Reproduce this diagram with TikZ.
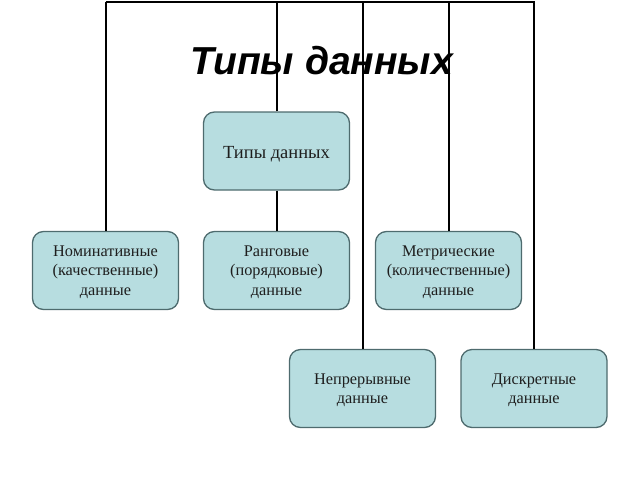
\documentclass[tikz,border=0pt]{standalone}
\usepackage{fontspec}
\setmainfont{Liberation Serif}
\newfontfamily\titlefont{Liberation Sans}
\definecolor{boxfill}{HTML}{B7DDE0}
\definecolor{boxline}{HTML}{4E6B6E}
\definecolor{boxtext}{HTML}{1E1E1E}
\tikzset{
  catbox/.style={draw=boxline, line width=1.3pt, fill=boxfill, rounded corners=11pt,
    minimum width=146pt, minimum height=78pt, align=center, text=boxtext,
    font=\fontsize{16.3}{19.5}\selectfont, inner sep=2pt, text depth=0pt},
  link/.style={draw=black, line width=2pt}
}
\begin{document}
\begin{tikzpicture}[x=1pt,y=-1pt]
\useasboundingbox (0,0) rectangle (640,480);
\node[anchor=base, font=\titlefont\bfseries\itshape\fontsize{39}{46}\selectfont] (title) at (322,74) {Типы данных};
\node[catbox, font=\fontsize{18.5}{21}\selectfont] (root) at (276.5,151) {\raisebox{-2pt}{Типы данных}};
\node[catbox] (nom) at (105.5,270.5) {Номинативные\\(качественные)\\данные};
\node[catbox] (rang) at (276.5,270.5) {Ранговые\\(порядковые)\\данные};
\node[catbox] (metr) at (448.5,270.5) {Метрические\\(количественные)\\данные};
\node[catbox] (nepr) at (362.5,388.5) {Непрерывные\\данные};
\node[catbox] (disk) at (534,388.5) {Дискретные\\данные};
\coordinate (topL) at (105.5,1.5);
\coordinate (topR) at (535,1.5);
\draw[link] (topL) -- (topR);
\draw[link] (nom.north) -- (nom.north |- topL);
\draw[link] (root.north) -- (root.north |- topL);
\draw[link] (metr.north) -- (metr.north |- topL);
\draw[link] (nepr.north) -- (nepr.north |- topL);
\draw[link] (disk.north) -- (disk.north |- topL);
\draw[link] (root.south) -- (rang.north);
\end{tikzpicture}
\end{document}
